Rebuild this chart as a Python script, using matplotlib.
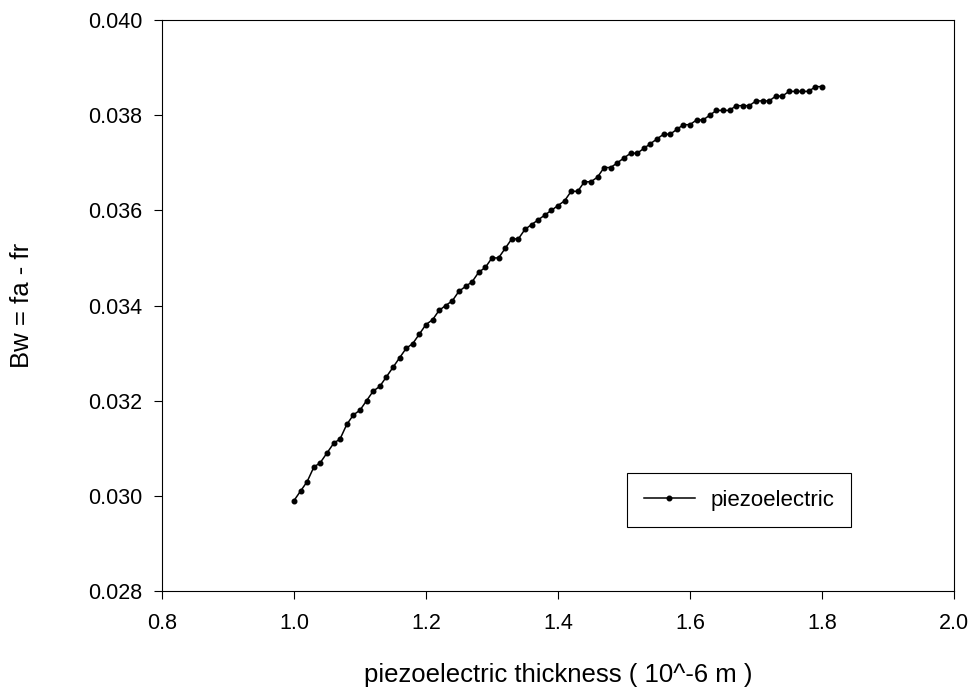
import numpy as np
import matplotlib.pyplot as plt

plt.rcParams['font.family'] = ['Liberation Sans', 'DejaVu Sans']

# espesor piezoelectrico (10^-6 m)
thickness = [round(1.0 + 0.01 * i, 2) for i in range(81)]

# ancho de banda Bw = fa - fr
bw = [0.0299, 0.0301, 0.0303, 0.0306, 0.0307, 0.0309, 0.0311, 0.0312, 0.0315, 0.0317,
      0.0318, 0.0320, 0.0322, 0.0323, 0.0325, 0.0327, 0.0329, 0.0331, 0.0332, 0.0334,
      0.0336, 0.0337, 0.0339, 0.0340, 0.0341, 0.0343, 0.0344, 0.0345, 0.0347, 0.0348,
      0.0350, 0.0350, 0.0352, 0.0354, 0.0354, 0.0356, 0.0357, 0.0358, 0.0359, 0.0360,
      0.0361, 0.0362, 0.0364, 0.0364, 0.0366, 0.0366, 0.0367, 0.0369, 0.0369, 0.0370,
      0.0371, 0.0372, 0.0372, 0.0373, 0.0374, 0.0375, 0.0376, 0.0376, 0.0377, 0.0378,
      0.0378, 0.0379, 0.0379, 0.0380, 0.0381, 0.0381, 0.0381, 0.0382, 0.0382, 0.0382,
      0.0383, 0.0383, 0.0383, 0.0384, 0.0384, 0.0385, 0.0385, 0.0385, 0.0385, 0.0386,
      0.0386]

xticks = [0.8, 1.0, 1.2, 1.4, 1.6, 1.8, 2.0]
yticks = [0.028, 0.030, 0.032, 0.034, 0.036, 0.038, 0.040]

fig = plt.figure(figsize=(9.74, 6.88), dpi=100)
ax = fig.add_axes([0.1663, 0.1410, 0.8131, 0.8299])

ax.plot(thickness, bw, '-o', color='black', lw=1.1, ms=3.3, label='piezoelectric')

ax.set_xlim(0.8, 2.0)
ax.set_ylim(0.028, 0.040)
ax.set_xticks(xticks)
ax.set_yticks(yticks)
ax.set_xticklabels(['%.1f' % v for v in xticks])
ax.set_yticklabels(['%.3f' % v for v in yticks])
ax.tick_params(axis='both', direction='out', length=6, width=0.8, labelsize=15.5)
ax.tick_params(axis='x', pad=10)
ax.tick_params(axis='y', pad=8)
for s in ax.spines.values():
    s.set_linewidth(0.8)

ax.set_xlabel('piezoelectric thickness ( 10^-6 m )', fontsize=18.5)
ax.set_ylabel('Bw = fa - fr', fontsize=18.5)
ax.xaxis.set_label_coords(0.5, -0.126)
ax.yaxis.set_label_coords(-0.162, 0.5)

leg = ax.legend(loc='upper left', bbox_to_anchor=(0.587, 0.2067), borderaxespad=0,
                fontsize=16, fancybox=False, edgecolor='black', framealpha=1,
                handlelength=2.3, handletextpad=0.7, borderpad=0.75)
leg.get_frame().set_linewidth(0.8)

fig.savefig('out.png', dpi=100)
